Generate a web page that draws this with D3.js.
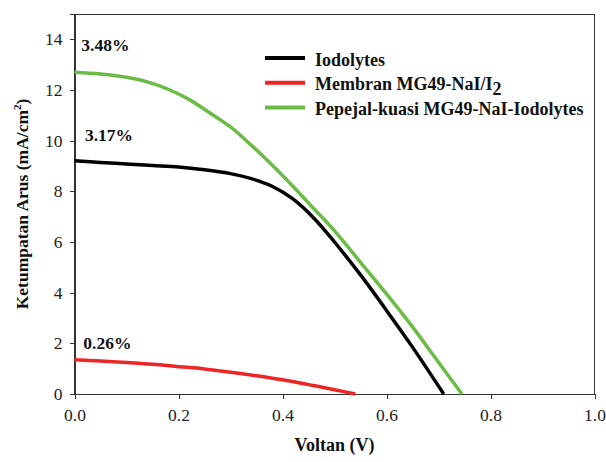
<!DOCTYPE html>
<html lang="en">
<head>
    <meta charset="UTF-8">
    <title>Ketumpatan Arus vs Voltan</title>
    <script type="text/javascript" src="https://cdn.jsdelivr.net/npm/d3@7/dist/d3.min.js"></script>
    <style>
        body { margin: 0; background: #fff; }
        svg text { font-family: "Liberation Serif", "Times New Roman", serif; }
        .axis path, .axis line { fill: none; stroke: #333; stroke-width: 1; shape-rendering: crispEdges; }
        .axis text { font-family: "Liberation Serif", "Times New Roman", serif; font-size: 17.5px; fill: #222; }
        .lbl { font-weight: bold; fill: #111; }
    </style>
</head>
<body>
<script type="text/javascript">
    let width = 606;
    let height = 462;

    // data
    let seriesNames = ['Iodolytes', 'Membran MG49-NaI/I', 'Pepejal-kuasi MG49-NaI-Iodolytes'];
    let seriesColors = ['#000000', '#ee2525', '#6cbb45'];
    let effLabels = ['3.17%', '0.26%', '3.48%'];

    let vIodo = [0, 0.05, 0.10, 0.15, 0.20, 0.25, 0.30, 0.34, 0.38, 0.42, 0.46, 0.50, 0.55, 0.60, 0.65, 0.71];
    let jIodo = [9.21, 9.14, 9.08, 9.02, 8.96, 8.85, 8.70, 8.50, 8.20, 7.70, 6.95, 6.00, 4.70, 3.30, 1.85, 0];

    let vMem = [0, 0.05, 0.10, 0.15, 0.20, 0.25, 0.30, 0.35, 0.40, 0.45, 0.50, 0.54];
    let jMem = [1.35, 1.30, 1.24, 1.17, 1.08, 0.99, 0.86, 0.72, 0.56, 0.37, 0.17, 0];

    let vPep = [0, 0.05, 0.10, 0.14, 0.18, 0.22, 0.26, 0.30, 0.34, 0.38, 0.42, 0.46, 0.50, 0.55, 0.60, 0.65, 0.70, 0.745];
    let jPep = [12.70, 12.63, 12.50, 12.32, 12.03, 11.63, 11.10, 10.54, 9.82, 9.04, 8.20, 7.32, 6.44, 5.20, 3.95, 2.65, 1.25, 0];

    let xTicks = [0, 0.2, 0.4, 0.6, 0.8, 1.0];
    let yTicks = [0, 2, 4, 6, 8, 10, 12, 14];

    let margin = {left: 74.5, right: 11.5, top: 14, bottom: 68};
    let x = d3.scaleLinear().domain([0, 1]).range([margin.left, width - margin.right]);
    let y = d3.scaleLinear().domain([0, 15]).range([height - margin.bottom, margin.top]);

    let svg = d3.select('body').append('svg')
        .attr('width', width)
        .attr('height', height);

    // frame
    svg.append('rect')
        .attr('x', x(0)).attr('y', y(15))
        .attr('width', x(1) - x(0)).attr('height', y(0) - y(15))
        .attr('fill', 'none').attr('stroke', '#333')
        .attr('shape-rendering', 'crispEdges');

    svg.append('g')
        .attr('class', 'axis')
        .attr('transform', 'translate(0,' + y(0) + ')')
        .call(d3.axisBottom(x).tickValues(xTicks).tickFormat(d3.format('.1f')).tickSize(5).tickPadding(10));

    svg.append('g')
        .attr('class', 'axis')
        .attr('transform', 'translate(' + x(0) + ',0)')
        .call(d3.axisLeft(y).tickValues(yTicks).tickSize(5).tickPadding(7));

    let series = [
        {v: vIodo, j: jIodo},
        {v: vMem, j: jMem},
        {v: vPep, j: jPep}
    ];

    let line = d3.line()
        .x(d => x(d[0]))
        .y(d => y(d[1]))
        .curve(d3.curveCatmullRom);

    series.forEach(function (s, i) {
        svg.append('path')
            .datum(s.v.map((v, k) => [v, s.j[k]]))
            .attr('d', line)
            .attr('fill', 'none')
            .attr('stroke', seriesColors[i])
            .attr('stroke-width', 3.5);
    });

    // efficiency labels
    let effPos = [[0.02, 10.0], [0.017, 1.78], [0.013, 13.55]];
    effLabels.forEach(function (t, i) {
        svg.append('text')
            .attr('class', 'lbl')
            .attr('x', x(effPos[i][0]))
            .attr('y', y(effPos[i][1]))
            .attr('font-size', 17.5)
            .text(t);
    });

    // legend
    let legend = svg.append('g').attr('transform', 'translate(265,58)');
    seriesNames.forEach(function (name, i) {
        let g = legend.append('g').attr('transform', 'translate(0,' + (i * 24.7) + ')');
        g.append('line')
            .attr('x1', 0).attr('x2', 40)
            .attr('stroke', seriesColors[i]).attr('stroke-width', 4);
        let t = g.append('text')
            .attr('class', 'lbl')
            .attr('x', 50).attr('y', 7.5)
            .attr('font-size', 18)
            .text(name);
        if (i === 1) {
            t.append('tspan').attr('dy', 5).text('2');
        }
    });

    // axis titles
    svg.append('text')
        .attr('class', 'lbl')
        .attr('x', x(0.5)).attr('y', 451)
        .attr('text-anchor', 'middle')
        .attr('font-size', 18)
        .text('Voltan (V)');

    let yt = svg.append('text')
        .attr('class', 'lbl')
        .attr('transform', 'translate(28,' + ((y(0) + y(15)) / 2) + ') rotate(-90)')
        .attr('text-anchor', 'middle')
        .attr('font-size', 17.5)
        .text('Ketumpatan Arus  (mA/cm');
    yt.append('tspan').attr('dy', -7).attr('font-size', 11).text('2');
    yt.append('tspan').attr('dy', 7).text(')');
</script>
</body>
</html>
